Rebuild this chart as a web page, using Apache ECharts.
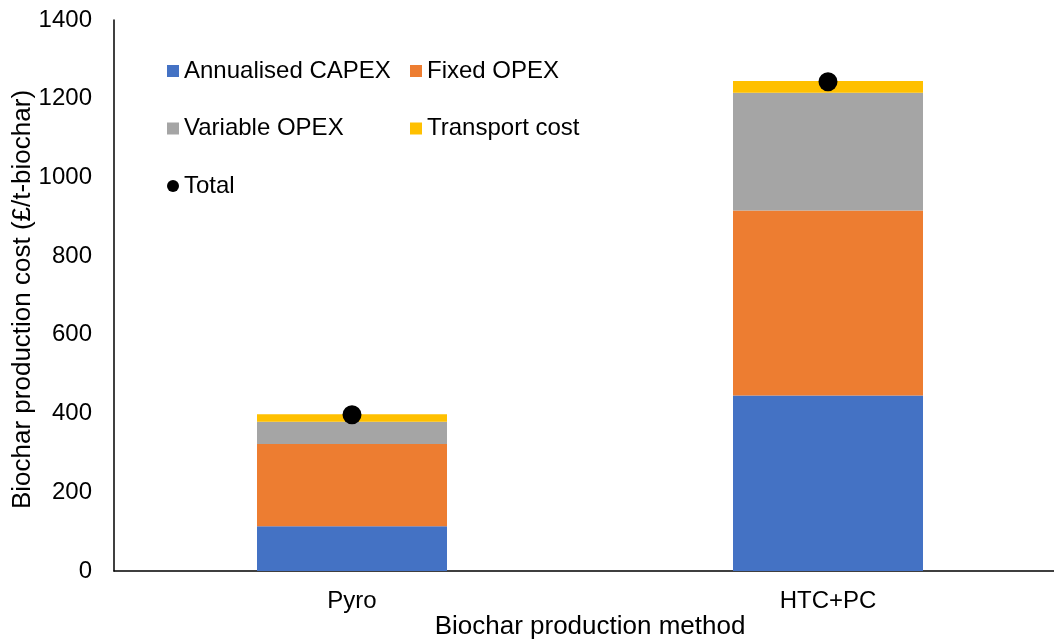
<!DOCTYPE html>
<html>
<head>
<meta charset="utf-8">
<script src="https://cdn.jsdelivr.net/npm/echarts@6/dist/echarts.min.js"></script>
<style>
  html, body { margin: 0; padding: 0; background: #fff; }
  #chart { width: 1054px; height: 643px; }
</style>
</head>
<body>
<div id="chart"></div>
<script>
// values (£/t-biochar)
const methods = ['Pyro', 'HTC+PC']
const capex = [114, 446]
const fixedOpex = [209, 470]
const variableOpex = [56, 299]
const transport = [19, 30]
const total = [397, 1243]

const FONT = 'Liberation Sans'

const chart = echarts.init(document.getElementById('chart'))

const bar = (name, data, color) => ({
  name, type: 'bar', stack: 'cost', data,
  barWidth: 190,
  itemStyle: { color },
  emphasis: { disabled: true }
})

const legendBase = {
  orient: 'vertical',
  top: 54,
  itemWidth: 12, itemHeight: 12, itemGap: 33.5,
  textStyle: { fontFamily: FONT, fontSize: 24, color: '#000' },
  selectedMode: false
}

chart.setOption({
  animation: false,
  textStyle: { fontFamily: FONT },
  grid: { left: 114, top: 20, width: 952, height: 551, outerBoundsMode: 'none', containLabel: false },
  legend: [
    Object.assign({}, legendBase, { left: 162, data: [
      { name: 'Annualised CAPEX', icon: 'rect' },
      { name: 'Variable OPEX', icon: 'rect' },
      { name: 'Total', icon: 'circle' }
    ] }),
    Object.assign({}, legendBase, { left: 405, data: [
      { name: 'Fixed OPEX', icon: 'rect' },
      { name: 'Transport cost', icon: 'rect' }
    ] })
  ],
  xAxis: {
    type: 'category', data: methods,
    axisLine: { lineStyle: { color: '#000', width: 1.5 } },
    axisTick: { show: false },
    axisLabel: { color: '#000', fontSize: 24, margin: 18 },
    name: 'Biochar production method', nameLocation: 'middle', nameGap: 43,
    nameMoveOverlap: false,
    nameTextStyle: { color: '#000', fontSize: 26 }
  },
  yAxis: {
    type: 'value', min: 0, max: 1400, interval: 200,
    axisLine: { show: true, lineStyle: { color: '#000', width: 1.5 } },
    axisTick: { show: false },
    splitLine: { show: false },
    axisLabel: { color: '#000', fontSize: 24, margin: 22, formatter: v => String(v) },
    name: 'Biochar production cost (£/t-biochar)', nameLocation: 'middle', nameGap: 78,
    nameMoveOverlap: false,
    nameTextStyle: { color: '#000', fontSize: 26, padding: [0, 8, 0, 0] }
  },
  series: [
    bar('Annualised CAPEX', capex, '#4472C4'),
    bar('Fixed OPEX', fixedOpex, '#ED7D31'),
    bar('Variable OPEX', variableOpex, '#A5A5A5'),
    bar('Transport cost', transport, '#FFC000'),
    {
      name: 'Total', type: 'scatter', data: total,
      symbol: 'circle', symbolSize: 19,
      itemStyle: { color: '#000', opacity: 1 },
      emphasis: { disabled: true },
      z: 5
    }
  ]
})
</script>
</body>
</html>
